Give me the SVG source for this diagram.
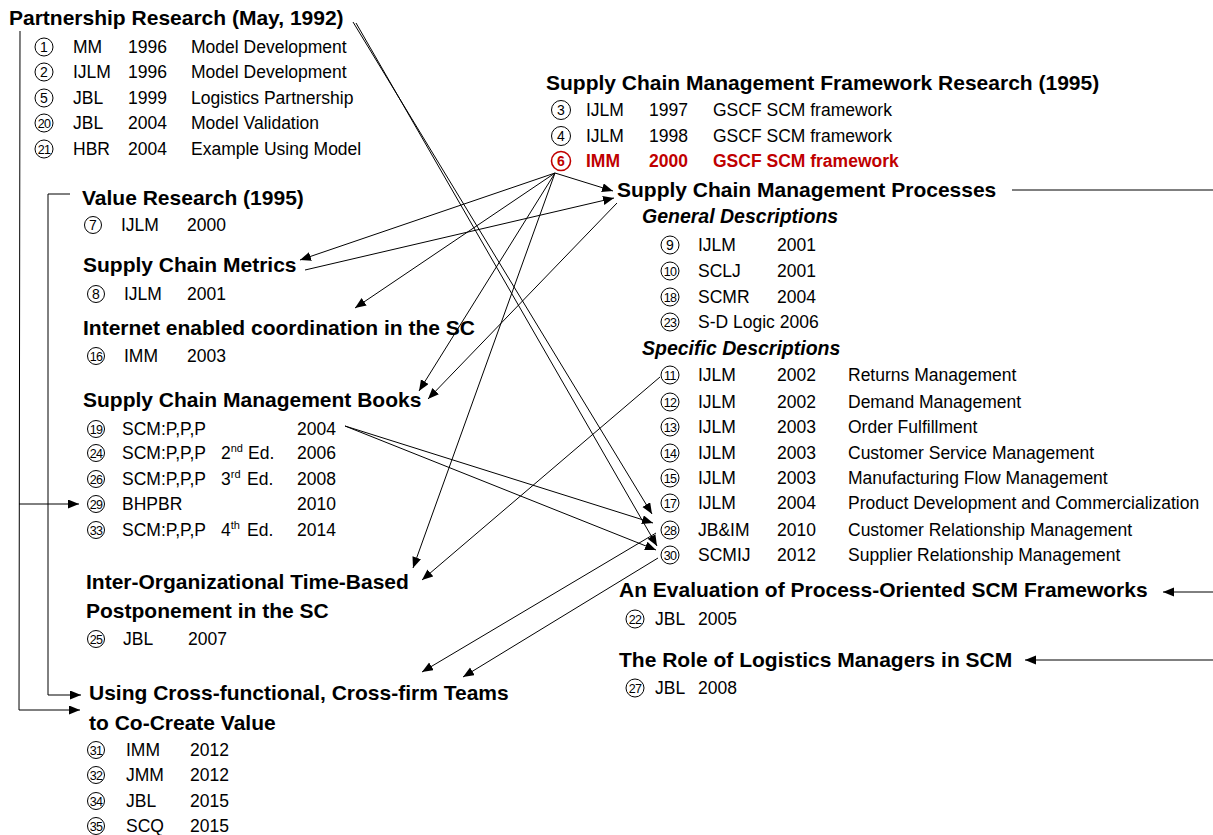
<svg xmlns="http://www.w3.org/2000/svg" width="1213" height="835" viewBox="0 0 1213 835">
  <style>
    text { font-family: "Liberation Sans", Arial, sans-serif; fill: #000; }
    .h { font-size: 21px; font-weight: bold; }
    .sh { font-size: 19.5px; font-weight: bold; font-style: italic; }
    .t { font-size: 17.5px; }
    .n { font-size: 14px; text-anchor: middle; }
    .n2 { font-size: 12.5px; text-anchor: middle; letter-spacing: -0.6px; }
    .sup { font-size: 11px; }
    .c { fill: none; stroke: #000; stroke-width: 1; }
    .red { fill: #c00000; font-weight: bold; }
    .cr { fill: none; stroke: #c00000; stroke-width: 1.6; }
    .ln { fill: none; stroke: #000; stroke-width: 1; }
    .ar { fill: none; stroke: #000; stroke-width: 1; marker-end: url(#arrow); }
  </style>
  <defs>
    <marker id="arrow" markerUnits="userSpaceOnUse" markerWidth="12" markerHeight="10" refX="11" refY="4.5" orient="auto">
      <path d="M0,0 L11,4.5 L0,9 z" fill="#000"/>
    </marker>
  </defs>
  <rect width="1213" height="835" fill="#fff"/>

  <!-- Partnership research -->
  <g id="partnership">
    <text class="h" x="9" y="25">Partnership Research (May, 1992)</text>
    <circle class="c" cx="44" cy="47" r="9"/><text class="n" x="44" y="52">1</text>
    <text class="t" x="73" y="53">MM</text><text class="t" x="128" y="53">1996</text><text class="t" x="191" y="53">Model Development</text>
    <circle class="c" cx="44" cy="72" r="9"/><text class="n" x="44" y="77">2</text>
    <text class="t" x="73" y="78">IJLM</text><text class="t" x="128" y="78">1996</text><text class="t" x="191" y="78">Model Development</text>
    <circle class="c" cx="44" cy="98" r="9"/><text class="n" x="44" y="103">5</text>
    <text class="t" x="73" y="104">JBL</text><text class="t" x="128" y="104">1999</text><text class="t" x="191" y="104">Logistics Partnership</text>
    <circle class="c" cx="44" cy="123" r="9"/><text class="n2" x="44" y="127.5">20</text>
    <text class="t" x="73" y="129">JBL</text><text class="t" x="128" y="129">2004</text><text class="t" x="191" y="129">Model Validation</text>
    <circle class="c" cx="44" cy="149" r="9"/><text class="n2" x="44" y="153.5">21</text>
    <text class="t" x="73" y="155">HBR</text><text class="t" x="128" y="155">2004</text><text class="t" x="191" y="155">Example Using Model</text>
  </g>

  <!-- Value research -->
  <g id="value">
    <text class="h" x="82" y="205">Value Research (1995)</text>
    <circle class="c" cx="93" cy="225" r="8.5"/><text class="n" x="93" y="230">7</text>
    <text class="t" x="121" y="231">IJLM</text><text class="t" x="187" y="231">2000</text>
  </g>

  <g id="metrics">
    <text class="h" x="83" y="272">Supply Chain Metrics</text>
    <circle class="c" cx="96" cy="294" r="8.5"/><text class="n" x="96" y="299">8</text>
    <text class="t" x="124" y="300">IJLM</text><text class="t" x="187" y="300">2001</text>
  </g>

  <g id="internet">
    <text class="h" x="83" y="335">Internet enabled coordination in the SC</text>
    <circle class="c" cx="96" cy="356" r="8.5"/><text class="n2" x="96" y="360.5">16</text>
    <text class="t" x="124" y="362">IMM</text><text class="t" x="187" y="362">2003</text>
  </g>

  <g id="books">
    <text class="h" x="83" y="407">Supply Chain Management Books</text>
    <circle class="c" cx="96" cy="429" r="8.5"/><text class="n2" x="96" y="433.5">19</text>
    <text class="t" x="122" y="435">SCM:P,P,P</text><text class="t" x="297" y="435">2004</text>
    <circle class="c" cx="96" cy="453" r="8.5"/><text class="n2" x="96" y="457.5">24</text>
    <text class="t" x="122" y="459">SCM:P,P,P</text><text class="t" x="221" y="459">2<tspan class="sup" dy="-7">nd</tspan></text><text class="t" x="248" y="459">Ed.</text><text class="t" x="297" y="459">2006</text>
    <circle class="c" cx="96" cy="479" r="8.5"/><text class="n2" x="96" y="483.5">26</text>
    <text class="t" x="122" y="485">SCM:P,P,P</text><text class="t" x="221" y="485">3<tspan class="sup" dy="-7">rd</tspan></text><text class="t" x="247" y="485">Ed.</text><text class="t" x="297" y="485">2008</text>
    <circle class="c" cx="96" cy="504" r="8.5"/><text class="n2" x="96" y="508.5">29</text>
    <text class="t" x="122" y="510">BHPBR</text><text class="t" x="297" y="510">2010</text>
    <circle class="c" cx="96" cy="530" r="8.5"/><text class="n2" x="96" y="534.5">33</text>
    <text class="t" x="122" y="536">SCM:P,P,P</text><text class="t" x="221" y="536">4<tspan class="sup" dy="-7">th</tspan></text><text class="t" x="247" y="536">Ed.</text><text class="t" x="297" y="536">2014</text>
  </g>

  <g id="postponement">
    <text class="h" x="86" y="589">Inter-Organizational Time-Based</text>
    <text class="h" x="86" y="618">Postponement in the SC</text>
    <circle class="c" cx="96" cy="639" r="8.5"/><text class="n2" x="96" y="643.5">25</text>
    <text class="t" x="123" y="645">JBL</text><text class="t" x="188" y="645">2007</text>
  </g>

  <g id="teams">
    <text class="h" x="89" y="700">Using Cross-functional, Cross-firm Teams</text>
    <text class="h" x="89" y="730">to Co-Create Value</text>
    <circle class="c" cx="96" cy="750" r="8.5"/><text class="n2" x="96" y="754.5">31</text>
    <text class="t" x="126" y="756">IMM</text><text class="t" x="190" y="756">2012</text>
    <circle class="c" cx="96" cy="775" r="8.5"/><text class="n2" x="96" y="779.5">32</text>
    <text class="t" x="126" y="781">JMM</text><text class="t" x="190" y="781">2012</text>
    <circle class="c" cx="96" cy="801" r="8.5"/><text class="n2" x="96" y="805.5">34</text>
    <text class="t" x="126" y="807">JBL</text><text class="t" x="190" y="807">2015</text>
    <circle class="c" cx="96" cy="826" r="8.5"/><text class="n2" x="96" y="830.5">35</text>
    <text class="t" x="126" y="832">SCQ</text><text class="t" x="190" y="832">2015</text>
  </g>

  <!-- SCM framework research -->
  <g id="framework">
    <text class="h" x="546" y="90">Supply Chain Management Framework Research (1995)</text>
    <circle class="c" cx="561" cy="110" r="9.5"/><text class="n" x="561" y="115">3</text>
    <text class="t" x="586" y="116">IJLM</text><text class="t" x="649" y="116">1997</text><text class="t" x="713" y="116">GSCF SCM framework</text>
    <circle class="c" cx="561" cy="136" r="9.5"/><text class="n" x="561" y="141">4</text>
    <text class="t" x="586" y="142">IJLM</text><text class="t" x="649" y="142">1998</text><text class="t" x="713" y="142">GSCF SCM framework</text>
    <circle class="cr" cx="561" cy="161" r="9.5"/><text class="n red" x="561" y="166">6</text>
    <text class="t red" x="586" y="167">IMM</text><text class="t red" x="649" y="167">2000</text><text class="t red" x="713" y="167">GSCF SCM framework</text>
  </g>

  <g id="processes">
    <text class="h" x="617" y="197">Supply Chain Management Processes</text>
    <text class="sh" x="642" y="223">General Descriptions</text>
    <circle class="c" cx="670" cy="245" r="9"/><text class="n" x="670" y="250">9</text>
    <text class="t" x="698" y="251">IJLM</text><text class="t" x="777" y="251">2001</text>
    <circle class="c" cx="670" cy="271" r="9"/><text class="n2" x="670" y="275.5">10</text>
    <text class="t" x="698" y="277">SCLJ</text><text class="t" x="777" y="277">2001</text>
    <circle class="c" cx="670" cy="297" r="9"/><text class="n2" x="670" y="301.5">18</text>
    <text class="t" x="698" y="303">SCMR</text><text class="t" x="777" y="303">2004</text>
    <circle class="c" cx="670" cy="322" r="9"/><text class="n2" x="670" y="326.5">23</text>
    <text class="t" x="698" y="328">S-D Logic 2006</text>
    <text class="sh" x="642" y="355">Specific Descriptions</text>
    <circle class="c" cx="670" cy="375" r="9"/><text class="n2" x="670" y="379.5">11</text>
    <text class="t" x="698" y="381">IJLM</text><text class="t" x="777" y="381">2002</text><text class="t" x="848" y="381">Returns Management</text>
    <circle class="c" cx="670" cy="402" r="9"/><text class="n2" x="670" y="406.5">12</text>
    <text class="t" x="698" y="408">IJLM</text><text class="t" x="777" y="408">2002</text><text class="t" x="848" y="408">Demand Management</text>
    <circle class="c" cx="670" cy="427" r="9"/><text class="n2" x="670" y="431.5">13</text>
    <text class="t" x="698" y="433">IJLM</text><text class="t" x="777" y="433">2003</text><text class="t" x="848" y="433">Order Fulfillment</text>
    <circle class="c" cx="670" cy="453" r="9"/><text class="n2" x="670" y="457.5">14</text>
    <text class="t" x="698" y="459">IJLM</text><text class="t" x="777" y="459">2003</text><text class="t" x="848" y="459">Customer Service Management</text>
    <circle class="c" cx="670" cy="478" r="9"/><text class="n2" x="670" y="482.5">15</text>
    <text class="t" x="698" y="484">IJLM</text><text class="t" x="777" y="484">2003</text><text class="t" x="848" y="484">Manufacturing Flow Management</text>
    <circle class="c" cx="670" cy="503" r="9"/><text class="n2" x="670" y="507.5">17</text>
    <text class="t" x="698" y="509">IJLM</text><text class="t" x="777" y="509">2004</text><text class="t" x="848" y="509">Product Development and Commercialization</text>
    <circle class="c" cx="670" cy="530" r="9"/><text class="n2" x="670" y="534.5">28</text>
    <text class="t" x="698" y="536">JB&amp;IM</text><text class="t" x="777" y="536">2010</text><text class="t" x="848" y="536">Customer Relationship Management</text>
    <circle class="c" cx="670" cy="555" r="9"/><text class="n2" x="670" y="559.5">30</text>
    <text class="t" x="698" y="561">SCMIJ</text><text class="t" x="777" y="561">2012</text><text class="t" x="848" y="561">Supplier Relationship Management</text>
  </g>

  <g id="evaluation">
    <text class="h" x="619" y="597">An Evaluation of Process-Oriented SCM Frameworks</text>
    <circle class="c" cx="635" cy="619" r="9"/><text class="n2" x="635" y="623.5">22</text>
    <text class="t" x="655" y="625">JBL</text><text class="t" x="698" y="625">2005</text>
  </g>

  <g id="logistics-managers">
    <text class="h" x="619" y="667">The Role of Logistics Managers in SCM</text>
    <circle class="c" cx="635" cy="688" r="9"/><text class="n2" x="635" y="692.5">27</text>
    <text class="t" x="655" y="694">JBL</text><text class="t" x="698" y="694">2008</text>
  </g>

  <!-- connectors -->
  <g id="connectors">
    <!-- left brackets -->
    <polyline class="ln" points="20,31 19,710"/>
    <path class="ar" d="M19,710 L80,710"/>
    <path class="ar" d="M19,504 L79,504"/>
    <polyline class="ln" points="70,194 48,194 48,695"/>
    <path class="ar" d="M48,695 L81,695"/>

    <!-- from IMM 2000 -->
    <path class="ar" d="M555,173 L613,191"/>
    <path class="ar" d="M555,173 L300,260"/>
    <path class="ar" d="M555,173 L355,308"/>
    <path class="ar" d="M555,173 L419,391"/>
    <path class="ar" d="M555,173 L413,568"/>

    <!-- Supply Chain Metrics and processes -->
    <path class="ar" d="M305,270 L614,198"/>
    <path class="ar" d="M617,203 L428,399"/>
    <path class="ar" d="M660,377 L422,580"/>

    <!-- partnership to processes -->
    <path class="ar" d="M353,22 L652,514"/>
    <path class="ar" d="M356,23 L657,546"/>

    <!-- books to processes -->
    <path class="ar" d="M345,426 L653,523"/>
    <path class="ar" d="M345,426 L656,550"/>

    <!-- processes to cross-firm teams -->
    <path class="ar" d="M656,533 L422,672"/>
    <path class="ar" d="M658,558 L463,677"/>

    <!-- right side -->
    <path class="ln" d="M1012,190 L1213,190"/>
    <path class="ar" d="M1213,592 L1163,592"/>
    <path class="ar" d="M1213,660 L1025,660"/>
  </g>
</svg>
